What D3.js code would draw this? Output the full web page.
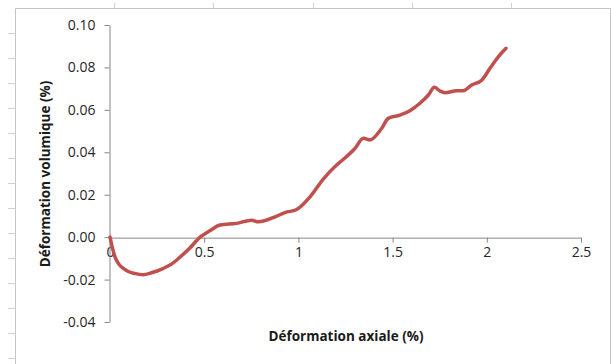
<!DOCTYPE html>
<html>
<head>
<meta charset="utf-8">
<script src="https://cdn.jsdelivr.net/npm/d3@7"></script>
<style>
    body { margin: 0; background: #fff; }
    #chart { width: 611px; height: 364px; }
    text { font-family: "Open Sans", sans-serif; }
</style>
</head>
<body>
<div id="chart"></div>
<script>
// axial strain (%) vs volumetric strain (%)
const strainAxial = [0, 0.01, 0.027, 0.045, 0.069, 0.1, 0.135, 0.175, 0.22, 0.281, 0.33, 0.372, 0.42, 0.478,
    0.53, 0.584, 0.672, 0.752, 0.787, 0.885, 0.929, 0.991, 1.062, 1.132, 1.203, 1.238, 1.300, 1.345,
    1.380, 1.442, 1.477, 1.539, 1.592, 1.645, 1.690, 1.722, 1.750, 1.778, 1.840, 1.875, 1.920, 1.973,
    2.017, 2.061, 2.102];
const strainVolume = [0, -0.004, -0.0094, -0.0125, -0.0146, -0.0163, -0.0172, -0.0177, -0.0168, -0.0148, -0.0125, -0.0094, -0.0055, 0,
    0.003, 0.0057, 0.0065, 0.008, 0.0072, 0.0099, 0.0116, 0.013, 0.019, 0.0274, 0.034, 0.0366, 0.0418, 0.0466,
    0.0458, 0.0513, 0.056, 0.0575, 0.0596, 0.0631, 0.067, 0.0706, 0.069, 0.0681, 0.069, 0.069, 0.0717, 0.074,
    0.0796, 0.085, 0.089];
const xTicks = [0, 0.5, 1, 1.5, 2, 2.5];
const yTicks = [-0.04, -0.02, 0, 0.02, 0.04, 0.06, 0.08, 0.10];

const width = 611, height = 364;
const svg = d3.select('#chart').append('svg')
    .attr('width', width)
    .attr('height', height);

// sheet frame / ruler bits
svg.append('path')
    .attr('d', 'M15.5,364V8.5H610.5V364')
    .attr('fill', 'none')
    .attr('stroke', '#c4c4c4');
svg.selectAll('.rul-y').data(d3.range(33, 364, 25)).enter().append('line')
    .attr('x1', 8).attr('x2', 15)
    .attr('y1', d => d + 0.5).attr('y2', d => d + 0.5)
    .attr('stroke', '#d0d0d0');
svg.selectAll('.rul-x').data(d3.range(114, 610, 99.3)).enter().append('line')
    .attr('x1', d => Math.round(d) + 0.5).attr('x2', d => Math.round(d) + 0.5)
    .attr('y1', 3).attr('y2', 8)
    .attr('stroke', '#d0d0d0');

const xScale = d3.scaleLinear().domain([0, 2.5]).range([110, 581]);
const yScale = d3.scaleLinear().domain([-0.04, 0.10]).range([322, 25]);

// excel style: plain hyphen for negatives
const fmtY = d => d3.format('.2f')(d).replace('\u2212', '-');

// x axis sits on y = 0
const xAxis = svg.append('g')
    .attr('transform', `translate(0,${yScale(0) + 0.5})`)
    .call(d3.axisBottom(xScale).tickValues(xTicks).tickSize(5).tickSizeOuter(0)
        .tickFormat(d => d === 0 ? '0' : d3.format('')(d)));
xAxis.select('.domain').attr('stroke', '#868686');
xAxis.selectAll('.tick line').attr('stroke', '#868686');
xAxis.selectAll('.tick text')
    .attr('dy', '0.4em')
    .attr('y', 14)
    .attr('fill', '#262626')
    .style('font-size', '14px')
    .style('font-family', '"Open Sans", sans-serif');

const yAxis = svg.append('g')
    .attr('transform', 'translate(109.5,0)')
    .call(d3.axisLeft(yScale).tickValues(yTicks).tickSize(5).tickSizeOuter(0)
        .tickFormat(fmtY));
yAxis.select('.domain').attr('stroke', '#868686');
yAxis.selectAll('.tick line').attr('stroke', '#868686');
yAxis.selectAll('.tick text')
    .attr('x', -14)
    .attr('fill', '#262626')
    .style('font-size', '14px')
    .style('font-family', '"Open Sans", sans-serif');

// axis titles
svg.append('text')
    .attr('x', 346)
    .attr('y', 341)
    .attr('text-anchor', 'middle')
    .attr('font-weight', 'bold')
    .attr('font-size', '13.5px')
    .attr('fill', '#1a1a1a')
    .text('Déformation axiale (%)');

svg.append('text')
    .attr('transform', 'translate(50,174) rotate(-90)')
    .attr('text-anchor', 'middle')
    .attr('font-weight', 'bold')
    .attr('font-size', '13.5px')
    .attr('fill', '#1a1a1a')
    .text('Déformation volumique (%)');

const points = strainAxial.map((x, i) => ({ x: x, y: strainVolume[i] }));
const line = d3.line()
    .x(d => xScale(d.x))
    .y(d => yScale(d.y))
    .curve(d3.curveMonotoneX);

svg.append('path')
    .datum(points)
    .attr('fill', 'none')
    .attr('stroke', '#c0504d')
    .attr('stroke-width', 3.5)
    .attr('stroke-linecap', 'round')
    .attr('stroke-linejoin', 'round')
    .attr('d', line);
</script>
</body>
</html>
